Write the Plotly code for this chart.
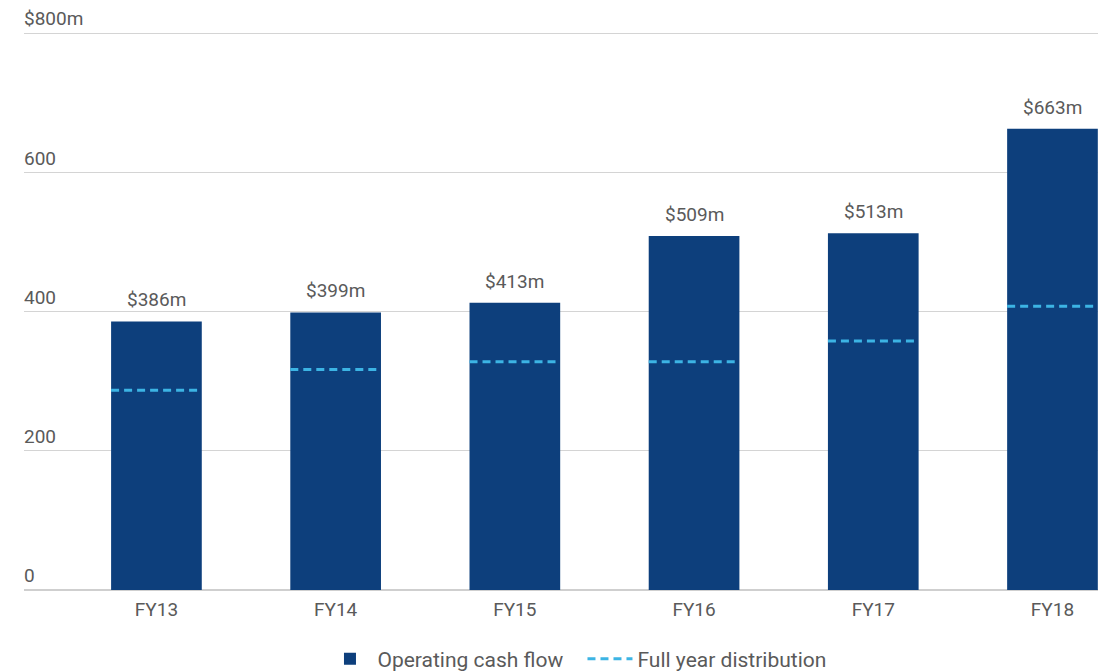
import plotly.graph_objects as go

categories = ["FY13", "FY14", "FY15", "FY16", "FY17", "FY18"]
operating_cash_flow = [386, 399, 413, 509, 513, 663]
distribution = [287, 317, 328, 328, 358, 408]
bar_labels = ["$386m", "$399m", "$413m", "$509m", "$513m", "$663m"]
ytick_vals = [0, 200, 400, 600, 800]
ytick_text = ["0", "200", "400", "600", "$800m"]

BAR_W = 0.506
NAVY = "#0d3f7c"
CYAN = "#3cb4e4"
GREY = "#5a5a5a"
FONT = "Roboto"

idx = list(range(len(categories)))

fig = go.Figure()
fig.add_trace(go.Bar(
    x=idx, y=operating_cash_flow, width=BAR_W,
    marker=dict(color=NAVY, line=dict(width=0)),
    name="Operating cash flow",
))

dx, dy = [], []
for i, v in zip(idx, distribution):
    dx += [i - BAR_W / 2, i + BAR_W / 2, None]
    dy += [v, v, None]
fig.add_trace(go.Scatter(
    x=dx, y=dy, mode="lines",
    line=dict(color=CYAN, width=3, dash="8px,5px"),
    name="Full year distribution", hoverinfo="skip",
))

for i, v, t in zip(idx, operating_cash_flow, bar_labels):
    fig.add_annotation(x=i, y=v, text=t, showarrow=False, yanchor="bottom",
                       yshift=8, font=dict(family=FONT, size=19, color=GREY))

for v, t in zip(ytick_vals, ytick_text):
    fig.add_annotation(xref="paper", x=0, y=v, text=t, showarrow=False,
                       xanchor="left", yanchor="bottom", yshift=1, xshift=-2,
                       font=dict(family=FONT, size=19, color=GREY))

fig.update_layout(
    width=1106, height=671,
    margin=dict(l=24, r=8, t=30, b=81),
    plot_bgcolor="white", paper_bgcolor="white",
    font=dict(family=FONT, size=19, color=GREY),
    showlegend=True,
    legend=dict(orientation="h", x=0.52, xanchor="center",
                yref="container", y=1 - 659 / 671, yanchor="middle",
                font=dict(family=FONT, size=21, color=GREY), itemwidth=45,
                entrywidth=200),
)
fig.update_xaxes(
    range=[-0.739, 5.254], tickvals=idx, ticktext=categories,
    showgrid=False, zeroline=False, showline=False, ticks="",
    ticklabelstandoff=6,
    tickfont=dict(family=FONT, size=19, color=GREY),
)
fig.update_yaxes(
    range=[0, 805], tickvals=ytick_vals,
    showgrid=True, gridcolor="#d4d4d4", gridwidth=1,
    zeroline=True, zerolinecolor="#cfcfcf", zerolinewidth=1.5,
    showticklabels=False, ticks="",
)

fig.write_html("out.html")
